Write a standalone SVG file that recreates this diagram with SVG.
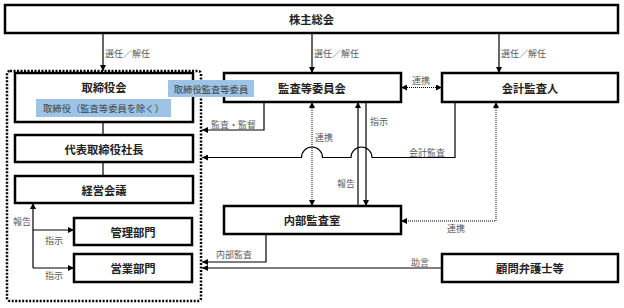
<svg xmlns="http://www.w3.org/2000/svg" width="624" height="308" viewBox="0 0 624 308">
<style>
text{font-family:"Noto Sans CJK JP","Noto Sans CJK SC",sans-serif;}
.box{fill:#fff;stroke:#000;stroke-width:2.5;}
.nt{font-size:11.3px;font-weight:bold;fill:#222;text-anchor:middle;dominant-baseline:central;}
.lb{font-size:9px;fill:#595959;dominant-baseline:central;}
.blue{fill:#9DC3E6;}
.bt{font-size:9.3px;fill:#404040;text-anchor:middle;dominant-baseline:central;}
.ln{fill:none;stroke:#000;stroke-width:1.2;}
.dt{fill:none;stroke:#000;stroke-width:1;stroke-dasharray:1 1;}
.frame{fill:none;stroke:#000;stroke-width:2.5;stroke-dasharray:2 1.5;}
</style>
<defs>
<marker id="ah" viewBox="0 0 6 6" refX="6" refY="3" markerWidth="6" markerHeight="6" markerUnits="userSpaceOnUse" orient="auto-start-reverse">
<path d="M0,0 L6,3 L0,6 Z" fill="#000"/>
</marker>
</defs>
<rect class="frame" x="7" y="71" width="194" height="230" rx="3"/>
<g id="n-kabunushi"><rect class="box" x="5" y="5" width="613" height="28"/><text class="nt" x="311.5" y="19">株主総会</text></g>
<g id="n-torishimariyakukai"><rect class="box" x="15" y="73" width="178" height="49"/><text class="nt" x="104" y="87">取締役会</text></g>
<g id="n-daihyo"><rect class="box" x="15" y="135" width="178" height="27"/><text class="nt" x="104" y="148.5">代表取締役社長</text></g>
<g id="n-keiei"><rect class="box" x="15" y="176" width="178" height="27"/><text class="nt" x="104" y="189.5">経営会議</text></g>
<g id="n-kanri"><rect class="box" x="74" y="218" width="118" height="27"/><text class="nt" x="133" y="231.5">管理部門</text></g>
<g id="n-eigyo"><rect class="box" x="74" y="254" width="118" height="28"/><text class="nt" x="133" y="268">営業部門</text></g>
<g id="n-kansatou"><rect class="box" x="224" y="73" width="177" height="29"/><text class="nt" x="312" y="87.5">監査等委員会</text></g>
<g id="n-kaikei"><rect class="box" x="442" y="73" width="176" height="29"/><text class="nt" x="530" y="87.5">会計監査人</text></g>
<g id="n-naibu"><rect class="box" x="224" y="206" width="177" height="28"/><text class="nt" x="312" y="220">内部監査室</text></g>
<g id="n-komon"><rect class="box" x="442" y="254" width="176" height="28"/><text class="nt" x="530" y="268">顧問弁護士等</text></g>
<g id="n-label1"><rect class="blue" x="36" y="99" width="135" height="18"/><text class="bt" x="103.5" y="108">取締役（監査等委員を除く）</text></g>
<g id="n-label2"><rect class="blue" x="168" y="80" width="86" height="17"/><text class="bt" x="211" y="88.5">取締役監査等委員</text></g>
<g id="connectors">
<path class="ln" d="M103,33 V71" marker-end="url(#ah)"/>
<path class="ln" d="M312,33 V73" marker-end="url(#ah)"/>
<path class="ln" d="M499,33 V73" marker-end="url(#ah)"/>
<path class="ln" d="M103,122 V135"/>
<path class="ln" d="M103,162 V176"/>
<path class="ln" d="M264,102 V130 H202" marker-end="url(#ah)"/>
<path class="ln" d="M455,102 V157.5 H372 A10.5,10.5 0 0 0 351,157.5 H322.5 A10.5,10.5 0 0 0 301.5,157.5 H202" marker-end="url(#ah)"/>
<path class="dt" d="M312,102 V206" marker-start="url(#ah)" marker-end="url(#ah)"/>
<path class="ln" d="M358,206 V102" marker-end="url(#ah)"/>
<path class="ln" d="M366,102 V206" marker-end="url(#ah)"/>
<path class="dt" d="M401,87.5 H442" marker-start="url(#ah)" marker-end="url(#ah)"/>
<path class="dt" d="M496,102 V221 H401" marker-start="url(#ah)" marker-end="url(#ah)"/>
<path class="ln" d="M266,234 V262 H202" marker-end="url(#ah)"/>
<path class="ln" d="M442,268 H202" marker-end="url(#ah)"/>
<path class="ln" d="M33,268 V203" marker-end="url(#ah)"/>
<path class="ln" d="M33,230 H74" marker-end="url(#ah)"/>
<path class="ln" d="M33,268 H74" marker-end="url(#ah)"/>
<text class="lb" x="105" y="53">選任／解任</text>
<text class="lb" x="314" y="53">選任／解任</text>
<text class="lb" x="501" y="53">選任／解任</text>
<text class="lb" x="211" y="124">監査・監督</text>
<text class="lb" x="315" y="137">連携</text>
<text class="lb" x="370" y="121">指示</text>
<text class="lb" x="337" y="183">報告</text>
<text class="lb" x="409" y="152">会計監査</text>
<text class="lb" x="412" y="80">連携</text>
<text class="lb" x="447" y="228">連携</text>
<text class="lb" x="216" y="254">内部監査</text>
<text class="lb" x="411" y="262">助言</text>
<text class="lb" x="13" y="221">報告</text>
<text class="lb" x="45" y="240">指示</text>
<text class="lb" x="45" y="275">指示</text>
</g>
</svg>
